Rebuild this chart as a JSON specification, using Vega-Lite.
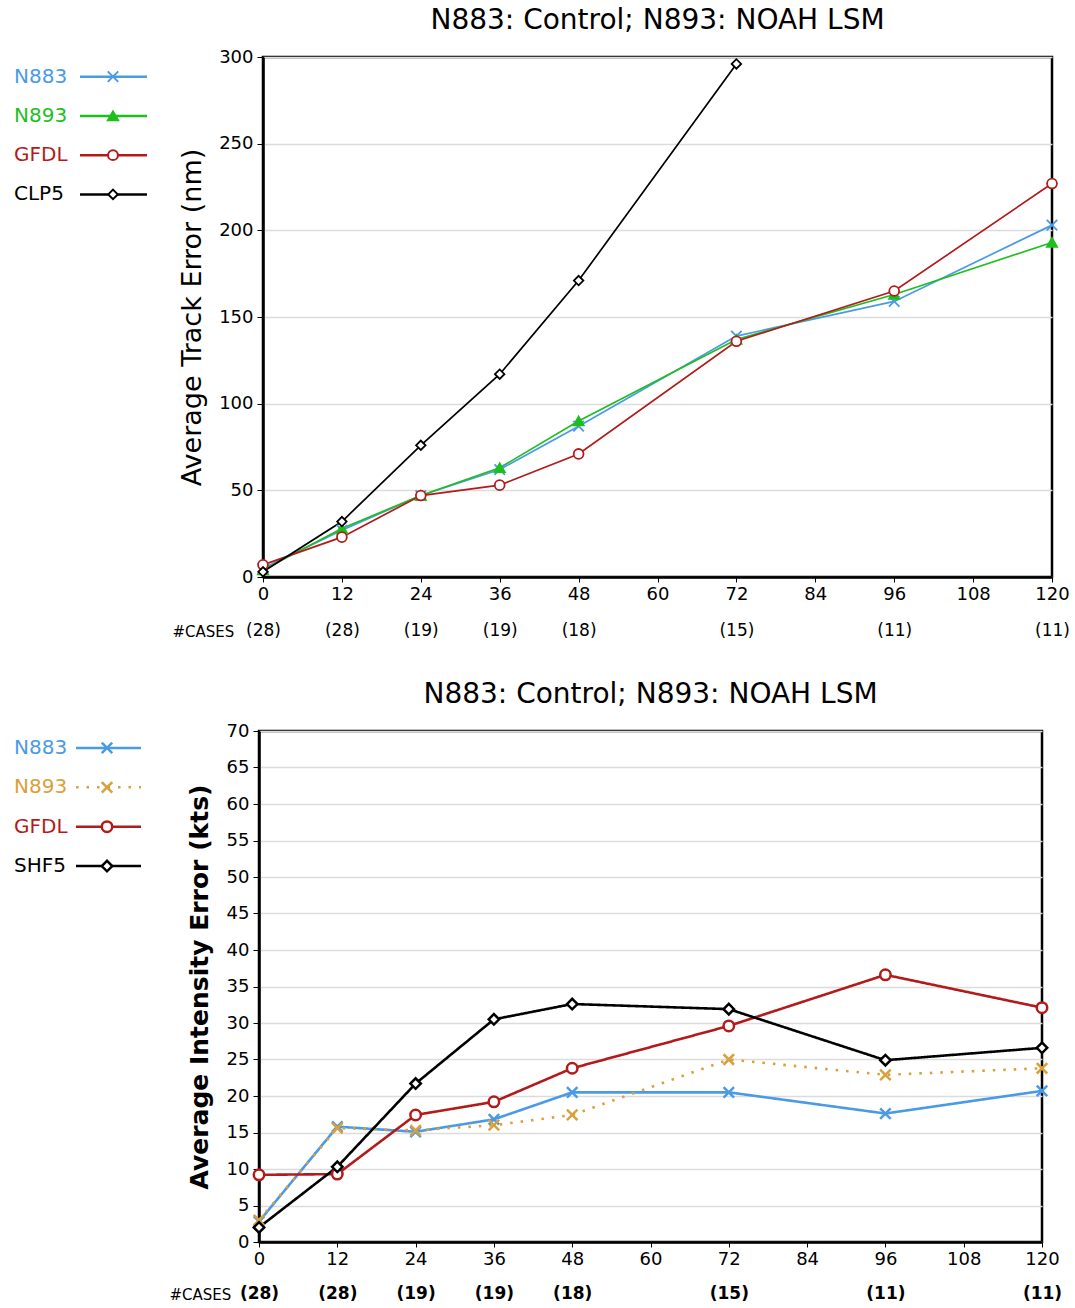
{
  "$schema": "https://vega.github.io/schema/vega-lite/v6.json",
  "background": "white",
  "padding": {"left": 14, "top": 5, "right": 0, "bottom": 0},
  "config": {
    "view": {"stroke": "black", "strokeWidth": 2.5},
    "font": "DejaVu Sans",
    "axis": {
      "domainColor": "black", "domainWidth": 2.5, "tickColor": "black", "tickWidth": 1,
      "labelColor": "black", "labelFont": "DejaVu Sans", "labelFontSize": 18, "labelFontWeight": "normal",
      "titleColor": "black", "titleFont": "DejaVu Sans", "gridColor": "#dcdcdc", "gridWidth": 1.5,
      "labelFlush": false, "labelOverlap": false
    },
    "title": {"fontSize": 28, "font": "DejaVu Sans", "fontWeight": "normal", "anchor": "middle", "frame": "group", "offset": 13, "color": "black"}
  },
  "resolve": {"scale": {"color": "independent", "stroke": "independent", "fill": "independent", "shape": "independent", "size": "independent", "strokeDash": "independent"}},
  "spacing": 38,
  "vconcat": [
    {
      "spacing": 16,
      "hconcat": [
        {
          "width": 140, "height": 157,
          "view": {"stroke": null},
          "data": {"values": [{"series": "N883"}, {"series": "N893"}, {"series": "GFDL"}, {"series": "CLP5"}]},
          "encoding": {"y": {"field": "series", "type": "nominal", "sort": ["N883", "N893", "GFDL", "CLP5"], "scale": {"type": "point", "padding": 0.5}, "axis": null}},
          "layer": [
            {"mark": {"type": "text", "align": "left", "baseline": "middle", "fontSize": 20, "font": "DejaVu Sans"},
             "encoding": {"x": {"datum": 0, "type": "quantitative", "scale": {"domain": [0, 140], "nice": false, "zero": false}, "axis": null},
                          "text": {"field": "series"},
                          "color": {"field": "series", "type": "nominal", "scale": {"domain": ["N883", "N893", "GFDL", "CLP5"], "range": ["#4a9ae6", "#1dbf1d", "#b31b1b", "#000000"]}, "legend": null}}},
            {"mark": {"type": "rule", "strokeWidth": 2.5},
             "encoding": {"x": {"datum": 66, "type": "quantitative", "scale": {"domain": [0, 140], "nice": false, "zero": false}, "axis": null},
                          "x2": {"datum": 133},
                          "color": {"field": "series", "type": "nominal", "scale": {"domain": ["N883", "N893", "GFDL", "CLP5"], "range": ["#4a9ae6", "#1dbf1d", "#b31b1b", "#000000"]}, "legend": null}}},
            {"mark": {"type": "point", "strokeWidth": 2, "opacity": 1, "filled": false},
             "encoding": {"x": {"datum": 99, "type": "quantitative", "scale": {"domain": [0, 140], "nice": false, "zero": false}, "axis": null},
                          "stroke": {"field": "series", "type": "nominal", "scale": {"domain": ["N883", "N893", "GFDL", "CLP5"], "range": ["#4a9ae6", "#1dbf1d", "#b31b1b", "#000000"]}, "legend": null},
                          "fill": {"field": "series", "type": "nominal", "scale": {"domain": ["N883", "N893", "GFDL", "CLP5"], "range": ["transparent", "#1dbf1d", "white", "white"]}, "legend": null},
                          "shape": {"field": "series", "type": "nominal", "scale": {"domain": ["N883", "N893", "GFDL", "CLP5"], "range": ["M-1,-1L1,1M-1,1L1,-1", "triangle-up", "circle", "diamond"]}, "legend": null},
                          "size": {"field": "series", "type": "nominal", "scale": {"domain": ["N883", "N893", "GFDL", "CLP5"], "range": [110, 90, 180, 150]}, "legend": null}}}
          ]
        },
        {
          "width": 789, "height": 520,
          "title": {"text": "N883: Control; N893: NOAH LSM"},
          "data": {"values": [
            {"series": "N883", "hour": 0, "error": 5}, {"series": "N883", "hour": 12, "error": 27}, {"series": "N883", "hour": 24, "error": 47}, {"series": "N883", "hour": 36, "error": 62}, {"series": "N883", "hour": 48, "error": 87}, {"series": "N883", "hour": 72, "error": 139}, {"series": "N883", "hour": 96, "error": 159}, {"series": "N883", "hour": 120, "error": 203},
            {"series": "N893", "hour": 0, "error": 4}, {"series": "N893", "hour": 12, "error": 28}, {"series": "N893", "hour": 24, "error": 47}, {"series": "N893", "hour": 36, "error": 63}, {"series": "N893", "hour": 48, "error": 90}, {"series": "N893", "hour": 72, "error": 137}, {"series": "N893", "hour": 96, "error": 163}, {"series": "N893", "hour": 120, "error": 193},
            {"series": "GFDL", "hour": 0, "error": 7}, {"series": "GFDL", "hour": 12, "error": 23}, {"series": "GFDL", "hour": 24, "error": 47}, {"series": "GFDL", "hour": 36, "error": 53}, {"series": "GFDL", "hour": 48, "error": 71}, {"series": "GFDL", "hour": 72, "error": 136}, {"series": "GFDL", "hour": 96, "error": 165}, {"series": "GFDL", "hour": 120, "error": 227},
            {"series": "CLP5", "hour": 0, "error": 3}, {"series": "CLP5", "hour": 12, "error": 32}, {"series": "CLP5", "hour": 24, "error": 76}, {"series": "CLP5", "hour": 36, "error": 117}, {"series": "CLP5", "hour": 48, "error": 171}, {"series": "CLP5", "hour": 72, "error": 296}
          ]},
          "resolve": {"axis": {"x": "independent"}},
          "layer": [
            {
              "encoding": {
                "x": {"field": "hour", "type": "quantitative", "scale": {"domain": [0, 120], "nice": false, "zero": false},
                      "axis": {"orient": "bottom", "values": [0, 12, 24, 36, 48, 60, 72, 84, 96, 108, 120], "title": null, "grid": false, "tickSize": 5, "labelPadding": 3}},
                "y": {"field": "error", "type": "quantitative", "scale": {"domain": [0, 300], "nice": false},
                      "axis": {"values": [0, 50, 100, 150, 200, 250, 300], "title": "Average Track Error (nm)", "grid": true, "tickSize": 6, "labelPadding": 4, "titleFontSize": 27, "titleFontWeight": "normal", "titlePadding": 12}}
              },
              "layer": [
                {"mark": {"type": "line", "strokeWidth": 1.7},
                 "encoding": {"color": {"field": "series", "type": "nominal", "scale": {"domain": ["N883", "N893", "GFDL", "CLP5"], "range": ["#4a9ae6", "#1dbf1d", "#b31b1b", "#000000"]}, "legend": null}}},
                {"mark": {"type": "point", "strokeWidth": 1.8, "opacity": 1, "filled": false},
                 "encoding": {
                   "stroke": {"field": "series", "type": "nominal", "scale": {"domain": ["N883", "N893", "GFDL", "CLP5"], "range": ["#4a9ae6", "#1dbf1d", "#b31b1b", "#000000"]}, "legend": null},
                   "fill": {"field": "series", "type": "nominal", "scale": {"domain": ["N883", "N893", "GFDL", "CLP5"], "range": ["transparent", "#1dbf1d", "white", "white"]}, "legend": null},
                   "shape": {"field": "series", "type": "nominal", "scale": {"domain": ["N883", "N893", "GFDL", "CLP5"], "range": ["M-1,-1L1,1M-1,1L1,-1", "triangle-up", "circle", "diamond"]}, "legend": null},
                   "size": {"field": "series", "type": "nominal", "scale": {"domain": ["N883", "N893", "GFDL", "CLP5"], "range": [110, 90, 180, 150]}, "legend": null}}}
              ]
            },
            {
              "mark": {"type": "point", "opacity": 0},
              "encoding": {
                "x": {"field": "hour", "type": "quantitative",
                      "axis": {"orient": "bottom", "values": [0, 12, 24, 36, 48, 72, 96, 120],
                               "labelExpr": "['(28)','(28)','(19)','(19)','(18)','','(15)','','(11)','','(11)'][round(datum.value/12)]",
                               "domain": false, "ticks": false, "tickSize": 0, "grid": false, "labelPadding": 45, "labelFontSize": 17,
                               "title": "#CASES", "titleAngle": 0, "titleAlign": "left", "titleBaseline": "middle", "titleX": -91, "titleY": 54, "titleFontSize": 15, "titleFontWeight": "normal"}}
              }
            }
          ]
        }
      ]
    },
    {
      "spacing": 13,
      "hconcat": [
        {
          "width": 140, "height": 152,
          "view": {"stroke": null},
          "data": {"values": [{"series": "N883"}, {"series": "N893"}, {"series": "GFDL"}, {"series": "SHF5"}]},
          "encoding": {"y": {"field": "series", "type": "nominal", "sort": ["N883", "N893", "GFDL", "SHF5"], "scale": {"type": "point", "padding": 0.43}, "axis": null}},
          "layer": [
            {"mark": {"type": "text", "align": "left", "baseline": "middle", "fontSize": 20, "font": "DejaVu Sans"},
             "encoding": {"x": {"datum": 0, "type": "quantitative", "scale": {"domain": [0, 140], "nice": false, "zero": false}, "axis": null},
                          "text": {"field": "series"},
                          "color": {"field": "series", "type": "nominal", "scale": {"domain": ["N883", "N893", "GFDL", "SHF5"], "range": ["#4a9ae6", "#d8a13a", "#b31b1b", "#000000"]}, "legend": null}}},
            {"mark": {"type": "rule", "strokeWidth": 2.5},
             "encoding": {"x": {"datum": 62, "type": "quantitative", "scale": {"domain": [0, 140], "nice": false, "zero": false}, "axis": null},
                          "x2": {"datum": 127},
                          "color": {"field": "series", "type": "nominal", "scale": {"domain": ["N883", "N893", "GFDL", "SHF5"], "range": ["#4a9ae6", "#d8a13a", "#b31b1b", "#000000"]}, "legend": null},
                          "strokeDash": {"field": "series", "type": "nominal", "scale": {"domain": ["N883", "N893", "GFDL", "SHF5"], "range": [[1, 0], [2.5, 8], [1, 0], [1, 0]]}, "legend": null}}},
            {"mark": {"type": "point", "strokeWidth": 2.5, "opacity": 1, "filled": false},
             "encoding": {"x": {"datum": 93, "type": "quantitative", "scale": {"domain": [0, 140], "nice": false, "zero": false}, "axis": null},
                          "stroke": {"field": "series", "type": "nominal", "scale": {"domain": ["N883", "N893", "GFDL", "SHF5"], "range": ["#4a9ae6", "#d8a13a", "#b31b1b", "#000000"]}, "legend": null},
                          "fill": {"field": "series", "type": "nominal", "scale": {"domain": ["N883", "N893", "GFDL", "SHF5"], "range": ["transparent", "transparent", "white", "white"]}, "legend": null},
                          "shape": {"field": "series", "type": "nominal", "scale": {"domain": ["N883", "N893", "GFDL", "SHF5"], "range": ["M-1,-1L1,1M-1,1L1,-1", "M-1,-1L1,1M-1,1L1,-1", "circle", "diamond"]}, "legend": null},
                          "size": {"field": "series", "type": "nominal", "scale": {"domain": ["N883", "N893", "GFDL", "SHF5"], "range": [110, 110, 200, 90]}, "legend": null}}}
          ]
        },
        {
          "width": 783, "height": 511,
          "title": {"text": "N883: Control; N893: NOAH LSM"},
          "data": {"values": [
            {"series": "N883", "hour": 0, "error": 2.8}, {"series": "N883", "hour": 12, "error": 15.8}, {"series": "N883", "hour": 24, "error": 15.1}, {"series": "N883", "hour": 36, "error": 16.8}, {"series": "N883", "hour": 48, "error": 20.5}, {"series": "N883", "hour": 72, "error": 20.5}, {"series": "N883", "hour": 96, "error": 17.6}, {"series": "N883", "hour": 120, "error": 20.7},
            {"series": "N893", "hour": 0, "error": 3.0}, {"series": "N893", "hour": 12, "error": 15.6}, {"series": "N893", "hour": 24, "error": 15.3}, {"series": "N893", "hour": 36, "error": 16.0}, {"series": "N893", "hour": 48, "error": 17.4}, {"series": "N893", "hour": 72, "error": 25.0}, {"series": "N893", "hour": 96, "error": 22.9}, {"series": "N893", "hour": 120, "error": 23.8},
            {"series": "GFDL", "hour": 0, "error": 9.2}, {"series": "GFDL", "hour": 12, "error": 9.3}, {"series": "GFDL", "hour": 24, "error": 17.4}, {"series": "GFDL", "hour": 36, "error": 19.2}, {"series": "GFDL", "hour": 48, "error": 23.8}, {"series": "GFDL", "hour": 72, "error": 29.6}, {"series": "GFDL", "hour": 96, "error": 36.6}, {"series": "GFDL", "hour": 120, "error": 32.1},
            {"series": "SHF5", "hour": 0, "error": 2.0}, {"series": "SHF5", "hour": 12, "error": 10.3}, {"series": "SHF5", "hour": 24, "error": 21.7}, {"series": "SHF5", "hour": 36, "error": 30.5}, {"series": "SHF5", "hour": 48, "error": 32.6}, {"series": "SHF5", "hour": 72, "error": 31.9}, {"series": "SHF5", "hour": 96, "error": 24.9}, {"series": "SHF5", "hour": 120, "error": 26.6}
          ]},
          "resolve": {"axis": {"x": "independent"}},
          "layer": [
            {
              "encoding": {
                "x": {"field": "hour", "type": "quantitative", "scale": {"domain": [0, 120], "nice": false, "zero": false},
                      "axis": {"orient": "bottom", "values": [0, 12, 24, 36, 48, 60, 72, 84, 96, 108, 120], "title": null, "grid": false, "tickSize": 5, "labelPadding": 3}},
                "y": {"field": "error", "type": "quantitative", "scale": {"domain": [0, 70], "nice": false},
                      "axis": {"values": [0, 5, 10, 15, 20, 25, 30, 35, 40, 45, 50, 55, 60, 65, 70], "title": "Average Intensity Error (kts)", "grid": true, "tickSize": 6, "labelPadding": 4, "titleFontSize": 25, "titleFontWeight": "bold", "titlePadding": 14}}
              },
              "layer": [
                {"mark": {"type": "line", "strokeWidth": 2.6},
                 "encoding": {
                   "color": {"field": "series", "type": "nominal", "scale": {"domain": ["N883", "N893", "GFDL", "SHF5"], "range": ["#4a9ae6", "#d8a13a", "#b31b1b", "#000000"]}, "legend": null},
                   "strokeDash": {"field": "series", "type": "nominal", "scale": {"domain": ["N883", "N893", "GFDL", "SHF5"], "range": [[1, 0], [2.5, 8], [1, 0], [1, 0]]}, "legend": null}}},
                {"mark": {"type": "point", "strokeWidth": 2.5, "opacity": 1, "filled": false},
                 "encoding": {
                   "stroke": {"field": "series", "type": "nominal", "scale": {"domain": ["N883", "N893", "GFDL", "SHF5"], "range": ["#4a9ae6", "#d8a13a", "#b31b1b", "#000000"]}, "legend": null},
                   "fill": {"field": "series", "type": "nominal", "scale": {"domain": ["N883", "N893", "GFDL", "SHF5"], "range": ["transparent", "transparent", "white", "white"]}, "legend": null},
                   "shape": {"field": "series", "type": "nominal", "scale": {"domain": ["N883", "N893", "GFDL", "SHF5"], "range": ["M-1,-1L1,1M-1,1L1,-1", "M-1,-1L1,1M-1,1L1,-1", "circle", "diamond"]}, "legend": null},
                   "size": {"field": "series", "type": "nominal", "scale": {"domain": ["N883", "N893", "GFDL", "SHF5"], "range": [110, 110, 200, 90]}, "legend": null}}}
              ]
            },
            {
              "mark": {"type": "point", "opacity": 0},
              "encoding": {
                "x": {"field": "hour", "type": "quantitative",
                      "axis": {"orient": "bottom", "values": [0, 12, 24, 36, 48, 72, 96, 120],
                               "labelExpr": "['(28)','(28)','(19)','(19)','(18)','','(15)','','(11)','','(11)'][round(datum.value/12)]",
                               "domain": false, "ticks": false, "tickSize": 0, "grid": false, "labelPadding": 43, "labelFontSize": 17, "labelFontWeight": "bold",
                               "title": "#CASES", "titleAngle": 0, "titleAlign": "left", "titleBaseline": "middle", "titleX": -90, "titleY": 52, "titleFontSize": 15, "titleFontWeight": "normal"}}
              }
            }
          ]
        }
      ]
    }
  ]
}
